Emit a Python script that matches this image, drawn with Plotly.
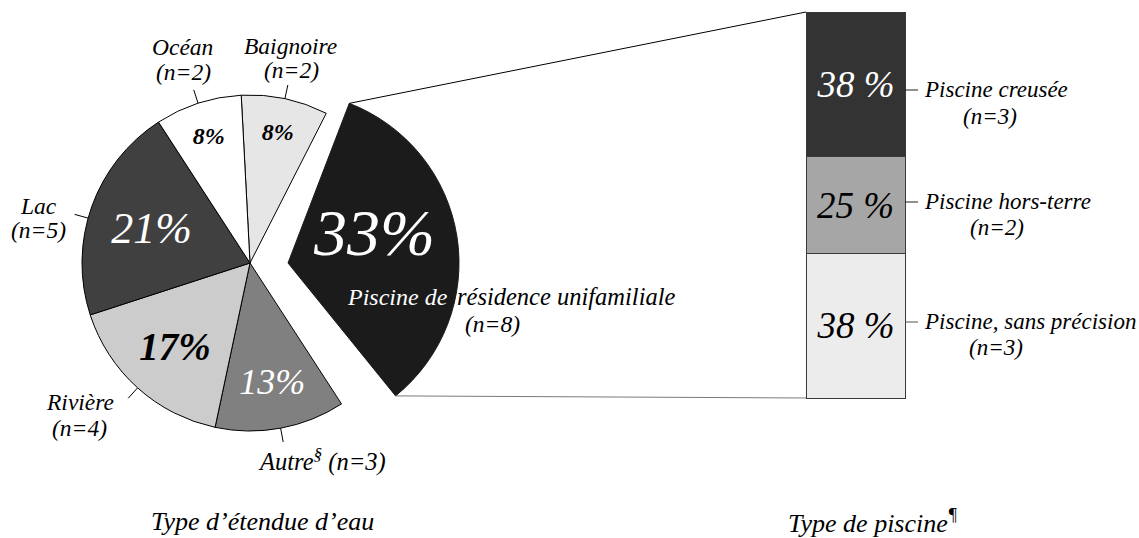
import math
import plotly.graph_objects as go

W, H = 1139, 538
FONT = "Liberation Serif, Times New Roman, DejaVu Serif, serif"

# ---------------- data ----------------
water_labels = ["Baignoire", "Piscine de résidence unifamiliale", "Autre", "Rivière", "Lac", "Océan"]
water_counts = [2, 8, 3, 4, 5, 2]
water_colors = ["#e6e6e6", "#1b1b1b", "#808080", "#cccccc", "#404040", "#ffffff"]
POOL_IDX = 1

pool_labels = ["Piscine, sans précision", "Piscine hors-terre", "Piscine creusée"]
pool_counts = [3, 2, 3]
pool_colors = ["#ececec", "#a6a6a6", "#333333"]

titles = ["Type d’étendue d’eau", "Type de piscine<sup>¶</sup>"]

# ---------------- styles ----------------
pie_text_sizes = [24, 66, 36, 39, 44, 24]
pie_text_colors = ["black", "white", "white", "black", "white", "black"]
pie_text_bold = [True, False, False, True, False, True]
bar_text_colors = ["black", "black", "white"]


def pct(v, t):
    return int(math.floor(v * 100.0 / t + 0.5))


def px2paper(x, y):
    return x / W, 1 - y / H


def pie_domain(cx, cy, r):
    return dict(x=[(cx - r) / W, (cx + r) / W], y=[1 - (cy + r) / H, 1 - (cy - r) / H])


total = sum(water_counts)

# main pie (pixel geometry)
A_cx, A_cy, A_r, A_rot = 250, 263, 168, -3
# detached pool slice
B_cx, B_cy, B_r, B_rot = 288, 263, 171, 21

def fmt(i):
    s = f"{pct(water_counts[i], total)}%"
    return f"<b>{s}</b>" if pie_text_bold[i] else s

a_text = ["" if i == POOL_IDX else fmt(i) for i in range(len(water_counts))]
a_textpos = ["none" if i == POOL_IDX else "inside" for i in range(len(water_counts))]
a_colors = ["rgba(0,0,0,0)" if i == POOL_IDX else c for i, c in enumerate(water_colors)]
a_lw = [0 if i == POOL_IDX else 1 for i in range(len(water_counts))]

fig = go.Figure()
fig.add_trace(go.Pie(
    values=water_counts, labels=water_labels, sort=False, direction="clockwise",
    rotation=A_rot, domain=pie_domain(A_cx, A_cy, A_r),
    marker=dict(colors=a_colors, line=dict(color="black", width=a_lw)),
    text=a_text, texttemplate="%{text}", textposition=a_textpos,
    insidetextorientation="horizontal",
    insidetextfont=dict(family=FONT, size=pie_text_sizes, color=pie_text_colors, style="italic"),
    hoverinfo="skip", showlegend=False,
))

rest = total - water_counts[POOL_IDX]
fig.add_trace(go.Pie(
    values=[water_counts[POOL_IDX], rest], labels=[water_labels[POOL_IDX], "reste"],
    sort=False, direction="clockwise", rotation=B_rot, domain=pie_domain(B_cx, B_cy, B_r),
    marker=dict(colors=[water_colors[POOL_IDX], "rgba(0,0,0,0)"],
                line=dict(color=[water_colors[POOL_IDX], "rgba(0,0,0,0)"], width=[1, 0])),
    textinfo="none", textposition="none", hoverinfo="skip", showlegend=False,
))

# ---------------- stacked bar ----------------
BX0, BY0, BX1, BY1 = 806, 12, 905, 398   # bar box in pixels
PAD = 6
bw = BX1 - BX0
bh = BY1 - BY0
pool_total = sum(pool_counts)
xspan = (bw + 2 * PAD) / bw
xaxis_range = [-xspan / 2, xspan / 2]
ypu = bh / pool_total
yaxis_range = [-PAD / ypu, pool_total + PAD / ypu]

for lab, v, c, tc in zip(pool_labels, pool_counts, pool_colors, bar_text_colors):
    fig.add_trace(go.Bar(
        x=[0], y=[v], width=[1], name=lab, marker=dict(color=c, line=dict(color="#3a3a3a", width=1)),
        text=[f"{pct(v, pool_total)} %"], textposition="inside", insidetextanchor="middle",
        textangle=0, textfont=dict(family=FONT, size=37, color=tc, style="italic"),
        hoverinfo="skip", showlegend=False, xaxis="x", yaxis="y",
    ))

fig.update_layout(
    width=W, height=H, margin=dict(l=0, r=0, t=0, b=0, pad=0),
    paper_bgcolor="white", plot_bgcolor="rgba(0,0,0,0)", barmode="stack",
    xaxis=dict(domain=[(BX0 - PAD) / W, (BX1 + PAD) / W], range=xaxis_range, visible=False, fixedrange=True),
    yaxis=dict(domain=[1 - (BY1 + PAD) / H, 1 - (BY0 - PAD) / H], range=yaxis_range, visible=False, fixedrange=True),
    font=dict(family=FONT, color="black"),
)

shapes = []

# connectors between detached slice and bar
ths = math.radians(B_rot)
the = math.radians(B_rot + 360.0 * water_counts[POOL_IDX] / total)
top_c = (B_cx + B_r * math.sin(ths), B_cy - B_r * math.cos(ths))
bot_c = (B_cx + B_r * math.sin(the), B_cy - B_r * math.cos(the))
for (p, q, col) in [(top_c, (BX0, BY0), "black"), (bot_c, (BX0, BY1), "#7a7a7a")]:
    x0, y0 = px2paper(*p)
    x1, y1 = px2paper(*q)
    shapes.append(dict(type="line", xref="paper", yref="paper", x0=x0, y0=y0, x1=x1, y1=y1,
                       line=dict(color=col, width=1)))

# leader lines for pie labels
leader_offset = [0, 0, 0, 0, -4, 0]
cum = 0
for i, v in enumerate(water_counts):
    mid = A_rot + 360.0 * (cum + v / 2.0) / total + leader_offset[i]
    cum += v
    if i == POOL_IDX:
        continue
    a = math.radians(mid)
    p0 = (A_cx + A_r * math.sin(a), A_cy - A_r * math.cos(a))
    p1 = (A_cx + (A_r + 14) * math.sin(a), A_cy - (A_r + 14) * math.cos(a))
    x0, y0 = px2paper(*p0)
    x1, y1 = px2paper(*p1)
    shapes.append(dict(type="line", xref="paper", yref="paper", x0=x0, y0=y0, x1=x1, y1=y1,
                       line=dict(color="black", width=1)))

# dashes for bar labels
for yy, col in [(90, "#222222"), (202, "#222222"), (322, "#555555")]:
    x0, y0 = px2paper(BX1, yy)
    x1, y1 = px2paper(BX1 + 13, yy)
    shapes.append(dict(type="line", xref="paper", yref="paper", x0=x0, y0=y0, x1=x1, y1=y1,
                       line=dict(color=col, width=1)))

fig.update_layout(shapes=shapes)

anns = []
def ann(text, x, y, size=23.5, color="black", xanchor="center"):
    xp, yp = px2paper(x, y)
    anns.append(dict(text=text, x=xp, y=yp, xref="paper", yref="paper", showarrow=False,
                     xanchor=xanchor, yanchor="middle",
                     font=dict(family=FONT, size=size, color=color, style="italic")))

n = lambda v: f"(n={v})"
# percentage of the detached slice
ann(fmt(POOL_IDX), 374, 232, size=pie_text_sizes[POOL_IDX], color=pie_text_colors[POOL_IDX])
# pie labels
ann(water_labels[5], 182, 47); ann(n(water_counts[5]), 183, 72)
ann(water_labels[0], 290, 46); ann(n(water_counts[0]), 291, 70)
ann(water_labels[4], 38, 206); ann(n(water_counts[4]), 38, 230)
ann(water_labels[3], 80, 402); ann(n(water_counts[3]), 79, 428)
ann(f"{water_labels[2]}<sup>§</sup> {n(water_counts[2])}", 322, 460, size=24.5)
pool_words = water_labels[POOL_IDX].split(" ")
ann(" ".join(pool_words[:2]), 345, 297, size=24, color="white", xanchor="left")
ann(" ".join(pool_words[2:]), 455, 297, size=24.5, xanchor="left")
ann(n(water_counts[POOL_IDX]), 493, 324)

# bar labels
ann(pool_labels[2], 922, 90, size=23, xanchor="left"); ann(n(pool_counts[2]), 990, 116, size=23)
ann(pool_labels[1], 922, 201, size=23, xanchor="left"); ann(n(pool_counts[1]), 997, 227, size=23)
ann(pool_labels[0], 922, 321, size=23, xanchor="left"); ann(n(pool_counts[0]), 996, 347, size=23)

# titles
ann(titles[0], 262, 521, size=26)
ann(titles[1], 873, 521, size=26)

fig.update_layout(annotations=anns)
fig.write_html("out.html", config=dict(displayModeBar=False, staticPlot=True),
               post_script="document.body.style.margin='0';document.body.style.overflow='hidden';")
